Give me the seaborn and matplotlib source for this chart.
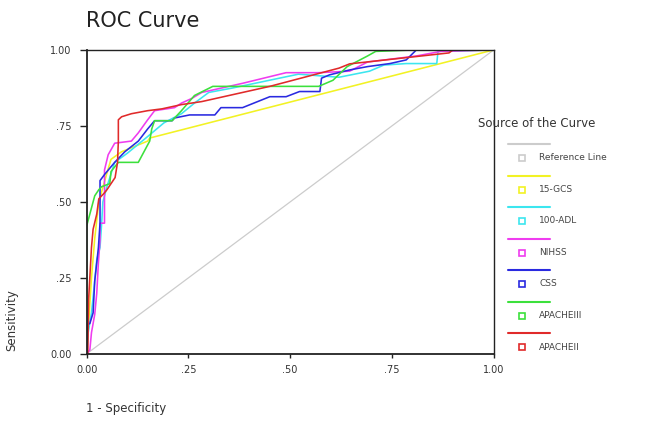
import numpy as np
import pandas as pd
import seaborn as sns
import matplotlib.pyplot as plt
from matplotlib.lines import Line2D

# ROC curves (1 - specificity, sensitivity)
ref_x = [0.0, 1.0]
ref_y = [0.0, 1.0]

gcs_x = [0.0, 0.005, 0.012, 0.02, 0.03, 0.05, 0.06, 0.086, 0.15, 0.155, 1.0]
gcs_y = [0.0, 0.10, 0.25, 0.38, 0.50, 0.595, 0.64, 0.665, 0.70, 0.71, 1.0]

adl_x = [0.0, 0.004, 0.012, 0.02, 0.025, 0.033, 0.037, 0.04, 0.05, 0.069, 0.10, 0.15, 0.19,
         0.233, 0.265, 0.30, 0.36, 0.52, 0.62, 0.695, 0.73, 0.785, 0.86, 0.863, 1.0]
adl_y = [0.0, 0.07, 0.135, 0.24, 0.31, 0.35, 0.43, 0.50, 0.55, 0.63, 0.66, 0.715, 0.76,
         0.79, 0.825, 0.86, 0.875, 0.92, 0.91, 0.93, 0.95, 0.955, 0.955, 0.995, 1.0]

nihss_x = [0.0, 0.008, 0.012, 0.02, 0.025, 0.029, 0.033, 0.033, 0.044, 0.044, 0.044, 0.053,
           0.069, 0.11, 0.127, 0.15, 0.167, 0.216, 0.233, 0.258, 0.283, 0.383, 0.49, 0.57,
           0.646, 0.69, 0.81, 0.87, 1.0]
nihss_y = [0.0, 0.013, 0.07, 0.13, 0.20, 0.30, 0.375, 0.43, 0.43, 0.51, 0.605, 0.655,
           0.693, 0.70, 0.727, 0.77, 0.80, 0.81, 0.825, 0.84, 0.86, 0.89, 0.925, 0.925,
           0.93, 0.96, 0.98, 0.995, 1.0]

css_x = [0.0, 0.0, 0.008, 0.016, 0.02, 0.025, 0.029, 0.033, 0.033, 0.044, 0.069, 0.094,
         0.127, 0.15, 0.167, 0.21, 0.216, 0.253, 0.315, 0.33, 0.383, 0.45, 0.49, 0.523,
         0.573, 0.577, 0.597, 0.646, 0.69, 0.745, 0.785, 0.81, 1.0]
css_y = [0.0, 0.095, 0.10, 0.135, 0.24, 0.30, 0.35, 0.43, 0.57, 0.59, 0.63, 0.665,
         0.70, 0.74, 0.767, 0.767, 0.776, 0.786, 0.786, 0.81, 0.81, 0.846, 0.846, 0.863,
         0.863, 0.907, 0.918, 0.934, 0.945, 0.955, 0.967, 1.0, 1.0]

apache3_x = [0.0, 0.0, 0.008, 0.02, 0.03, 0.037, 0.057, 0.06, 0.078, 0.127, 0.155, 0.16,
             0.167, 0.21, 0.233, 0.265, 0.28, 0.31, 0.57, 0.605, 0.64, 0.69, 0.71, 0.81, 1.0]
apache3_y = [0.0, 0.42, 0.46, 0.52, 0.54, 0.55, 0.56, 0.60, 0.63, 0.63, 0.70, 0.74,
             0.767, 0.767, 0.80, 0.85, 0.86, 0.88, 0.88, 0.90, 0.945, 0.98, 0.995, 1.0, 1.0]

apache2_x = [0.0, 0.003, 0.005, 0.012, 0.016, 0.025, 0.03, 0.044, 0.05, 0.07, 0.076, 0.078,
             0.078, 0.086, 0.11, 0.15, 0.185, 0.233, 0.283, 0.45, 0.62, 0.646, 0.89, 0.90, 1.0]
apache2_y = [0.0, 0.0, 0.18, 0.35, 0.41, 0.46, 0.51, 0.53, 0.54, 0.58, 0.63, 0.70,
             0.77, 0.78, 0.79, 0.80, 0.806, 0.82, 0.83, 0.88, 0.94, 0.954, 0.99, 1.0, 1.0]

names = ["Reference Line", "15-GCS", "100-ADL", "NIHSS", "CSS", "APACHEIII", "APACHEII"]
xs = [ref_x, gcs_x, adl_x, nihss_x, css_x, apache3_x, apache2_x]
ys = [ref_y, gcs_y, adl_y, nihss_y, css_y, apache3_y, apache2_y]
colors = ["#cccccc", "#f2f224", "#3ce6ef", "#ef3cef", "#2a2ae0", "#3ce03c", "#e02a2a"]

frames = []
for n, x, y in zip(names, xs, ys):
    frames.append(pd.DataFrame({"fpr": x, "tpr": y, "curve": n, "step": range(len(x))}))
df = pd.concat(frames, ignore_index=True)

sns.set_style("white")
plt.rcParams["font.family"] = ["DejaVu Sans"]

fig = plt.figure(figsize=(6.61, 4.30), dpi=100)
ax = fig.add_axes([0.131, 0.177, 0.616, 0.707])

for n, c in zip(names, colors):
    sub = df[df["curve"] == n]
    sns.lineplot(data=sub, x="fpr", y="tpr", sort=False, estimator=None, color=c,
                 linewidth=0.9 if n == "Reference Line" else 1.15, ax=ax, legend=False)

ax.set_xlim(0, 1)
ax.set_ylim(0, 1)
ticks = [0, 0.25, 0.5, 0.75, 1.0]
tlabels = ["0.00", ".25", ".50", ".75", "1.00"]
ax.set_xticks(ticks)
ax.set_xticklabels(tlabels)
ax.set_yticks(ticks)
ax.set_yticklabels(tlabels)
ax.tick_params(axis="both", labelsize=7, color="#222222", labelcolor="#333333")
ax.tick_params(axis="y", direction="out", length=5, width=1, left=True, pad=6)
ax.tick_params(axis="x", direction="out", length=3, width=1, bottom=True, pad=5)
for side, s in ax.spines.items():
    s.set_color("#222222")
    s.set_linewidth(1.3 if side in ("left", "bottom") else 1.0)
ax.set_xlabel("")
ax.set_ylabel("")

fig.text(0.130, 0.952, "ROC Curve", fontsize=15, color="#222222", ha="left", va="center")
fig.text(0.018, 0.255, "Sensitivity", fontsize=8.5, color="#333333", rotation=90,
         ha="center", va="center")
fig.text(0.130, 0.051, "1 - Specificity", fontsize=8.5, color="#333333", ha="left", va="center")

# SPSS-style legend: line row, then square + label row
fig.text(0.723, 0.712, "Source of the Curve", fontsize=8.5, color="#333333",
         ha="left", va="center")
for i, (n, c) in enumerate(zip(names, colors)):
    y_line = 1 - (144 + 31.5 * i) / 430
    y_item = 1 - (158 + 31.5 * i) / 430
    fig.add_artist(Line2D([508 / 661, 550 / 661], [y_line, y_line], color=c, lw=1.5,
                          transform=fig.transFigure))
    fig.add_artist(Line2D([522 / 661], [y_item], marker="s", markersize=4, color=c,
                          markerfacecolor="white", markeredgewidth=1.2, linestyle="none",
                          transform=fig.transFigure))
    fig.text(539 / 661, y_item, n, fontsize=6.5, color="#444444", ha="left", va="center")

fig.savefig("out.png", dpi=100)
